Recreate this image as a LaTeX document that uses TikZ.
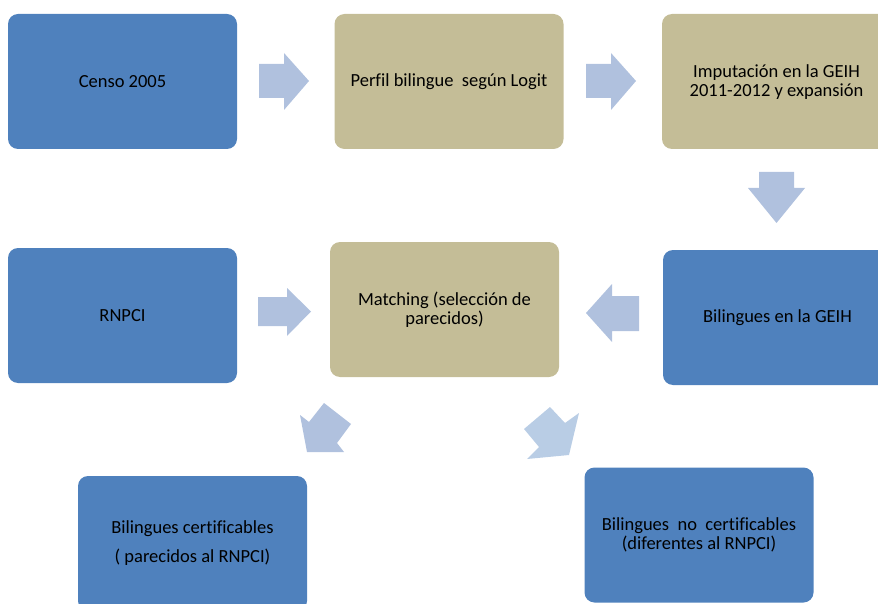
\documentclass[tikz,border=0pt]{standalone}
\usepackage{fontspec}
\setmainfont{Carlito}[Ligatures=NoCommon]
\definecolor{boxblue}{RGB}{79,129,189}
\definecolor{boxtan}{RGB}{196,189,151}
\definecolor{arrA}{RGB}{176,193,222}
\definecolor{arrB}{RGB}{185,205,229}
\tikzset{
  card/.style={rounded corners=10pt, minimum width=229pt, minimum height=135pt,
    inner sep=0pt, align=center, text=black,
    font=\fontsize{18.5}{19}\selectfont},
  bluecard/.style={card, fill=boxblue},
  tancard/.style={card, fill=boxtan},
  blockA/.style={fill=arrA},
  blockB/.style={fill=arrB}
}
\begin{document}
\begin{tikzpicture}[x=1pt,y=-1pt]
\useasboundingbox (0,0) rectangle (878,604);
\clip (0,0) rectangle (878,604);
% boxes
\node[bluecard] (censo) at (122.5,81.5) {Censo 2005};
\node[tancard] (perfil) at (449,81.5) {Perfil bilingue\ \ según Logit};
\node[tancard] (imput) at (776.5,81.5) {\\[-5pt]Imputación en la GEIH\\2011-2012 y expansión};
\node[bluecard] (rnpci) at (122.5,315.5) {RNPCI};
\node[tancard] (match) at (444.5,309.5) {Matching (selección de\\parecidos)};
\node[bluecard] (geih) at (777.5,317.5) {Bilingues en la GEIH};
\node[bluecard] (cert) at (192.5,543.5) {Bilingues certificables\\[10pt]( parecidos al RNPCI)};
\node[bluecard] (nocert) at (699,535) {Bilingues\ \ no\ \ certificables\\(diferentes al RNPCI)};
% block arrows
\fill[blockA] (259,64) -- (284,64) -- (284,53) -- (309,81) -- (284,110) -- (284,98) -- (259,98) -- cycle;
\fill[blockA] (586,64) -- (611,64) -- (611,53) -- (636,81) -- (611,110) -- (611,98) -- (586,98) -- cycle;
\fill[blockA] (759,172) -- (794,172) -- (794,188) -- (805,188) -- (776.5,223) -- (748,188) -- (759,188) -- cycle;
\fill[blockA] (639,296) -- (612,296) -- (612,284) -- (586,313) -- (612,342) -- (612,331) -- (639,331) -- cycle;
\fill[blockA] (258,297) -- (287,297) -- (287,288) -- (311,311.5) -- (287,336) -- (287,326) -- (258,326) -- cycle;
\fill[blockA] (307,452) -- (300,415) -- (309,422) -- (324,403) -- (351,424) -- (337,443) -- (344,452) -- cycle;
\fill[blockB] (569,455) -- (579,413) -- (565,423) -- (550,407) -- (524,429) -- (539,447) -- (527,459) -- cycle;
\end{tikzpicture}
\end{document}
